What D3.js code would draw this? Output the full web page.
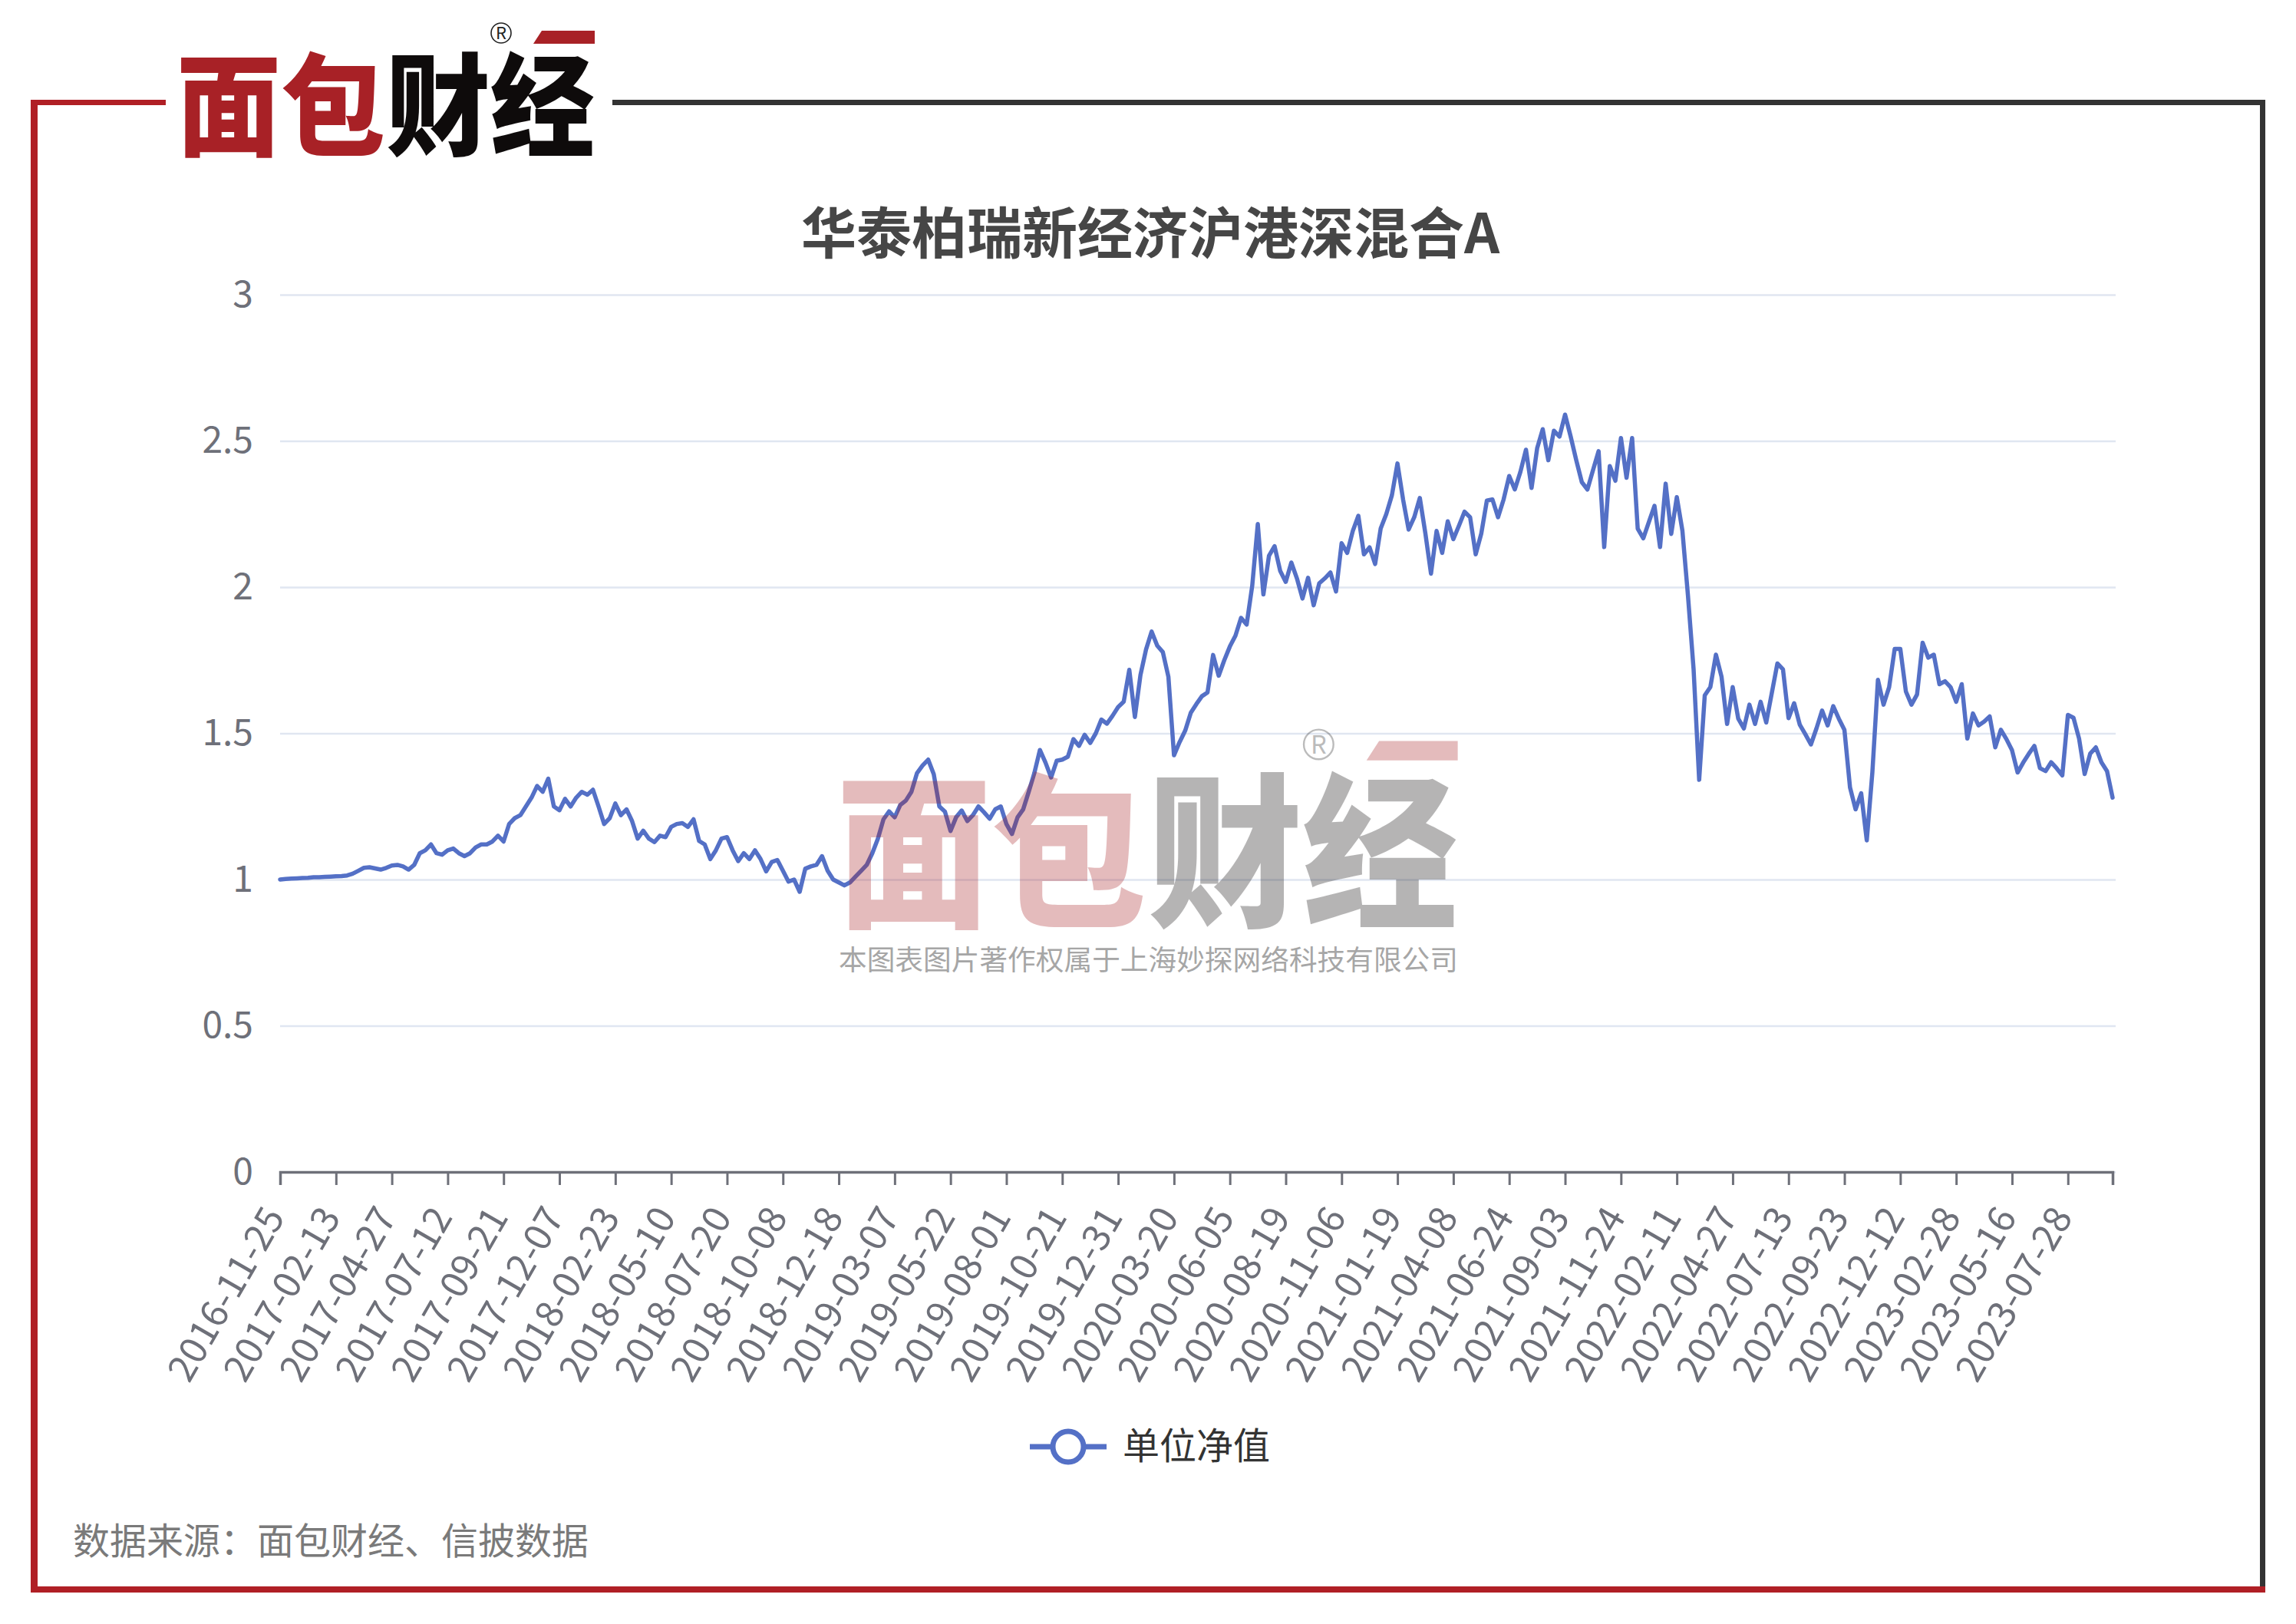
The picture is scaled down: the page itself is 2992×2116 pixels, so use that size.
<!DOCTYPE html>
<html><head><meta charset="utf-8">
<script src="https://cdn.jsdelivr.net/npm/d3@7/dist/d3.min.js"></script>
<style>html,body{margin:0;padding:0;background:#fff;}svg{display:block;}</style>
</head><body>
<script>
const chartTitle = "华泰柏瑞新经济沪港深混合A";
const seriesName = "单位净值";
const sourceText = "数据来源：面包财经、信披数据";
const watermarkText = "本图表图片著作权属于上海妙探网络科技有限公司";
// tick labels (one every 10 samples; one sample ≈ every 5 trading days)
const tickLabels = ["2016-11-25","2017-02-13","2017-04-27","2017-07-12","2017-09-21","2017-12-07","2018-02-23","2018-05-10","2018-07-20","2018-10-08","2018-12-18","2019-03-07","2019-05-22","2019-08-01","2019-10-21","2019-12-31","2020-03-20","2020-06-05","2020-08-19","2020-11-06","2021-01-19","2021-04-08","2021-06-24","2021-09-03","2021-11-24","2022-02-11","2022-04-27","2022-07-13","2022-09-23","2022-12-12","2023-02-28","2023-05-16","2023-07-28"];
const samplesPerLabel = 10;
const yTicks = [0, 0.5, 1, 1.5, 2, 2.5, 3];
// unit NAV, sampled along the trading-day axis
const nav = [
1.000,1.002,1.003,1.004,1.005,1.006,1.008,1.008,1.009,1.010,
1.011,1.012,1.014,1.020,1.030,1.040,1.042,1.038,1.034,1.040,
1.048,1.050,1.045,1.034,1.050,1.090,1.100,1.120,1.090,1.085,
1.100,1.106,1.090,1.080,1.090,1.110,1.120,1.120,1.130,1.150,
1.130,1.190,1.210,1.220,1.250,1.280,1.320,1.300,1.345,1.250,
1.237,1.276,1.250,1.280,1.300,1.290,1.307,1.250,1.190,1.210,
1.260,1.220,1.240,1.200,1.140,1.167,1.140,1.128,1.150,1.145,
1.180,1.190,1.193,1.180,1.206,1.132,1.120,1.070,1.100,1.140,
1.145,1.100,1.063,1.090,1.070,1.100,1.070,1.028,1.060,1.067,
1.030,0.993,1.000,0.958,1.037,1.045,1.050,1.080,1.030,1.000,
0.990,0.980,0.990,1.010,1.030,1.050,1.090,1.140,1.206,1.233,
1.213,1.255,1.270,1.300,1.364,1.390,1.410,1.360,1.250,1.232,
1.166,1.213,1.236,1.200,1.220,1.250,1.230,1.208,1.240,1.250,
1.190,1.156,1.213,1.240,1.300,1.364,1.443,1.400,1.349,1.406,
1.410,1.420,1.480,1.457,1.495,1.467,1.500,1.547,1.533,1.560,
1.590,1.608,1.717,1.556,1.700,1.787,1.848,1.800,1.778,1.693,
1.425,1.470,1.509,1.570,1.600,1.627,1.640,1.768,1.697,1.750,
1.797,1.834,1.895,1.872,2.004,2.216,1.975,2.107,2.140,2.056,
2.018,2.084,2.030,1.961,2.032,1.938,2.013,2.030,2.050,1.985,
2.150,2.117,2.192,2.244,2.112,2.136,2.079,2.201,2.250,2.314,
2.423,2.300,2.197,2.239,2.305,2.183,2.046,2.192,2.117,2.225,
2.164,2.210,2.258,2.239,2.112,2.183,2.296,2.300,2.239,2.300,
2.380,2.334,2.394,2.470,2.339,2.475,2.540,2.434,2.535,2.515,
2.590,2.515,2.434,2.359,2.334,2.400,2.465,2.137,2.414,2.364,
2.510,2.374,2.510,2.200,2.167,2.223,2.278,2.137,2.354,2.182,
2.308,2.193,1.970,1.720,1.341,1.630,1.658,1.769,1.694,1.532,
1.658,1.550,1.517,1.598,1.532,1.608,1.537,1.638,1.739,1.719,
1.552,1.603,1.530,1.497,1.462,1.517,1.578,1.527,1.593,1.550,
1.512,1.315,1.240,1.295,1.134,1.366,1.683,1.598,1.658,1.789,
1.789,1.643,1.598,1.633,1.810,1.759,1.769,1.668,1.678,1.658,
1.608,1.668,1.482,1.568,1.527,1.540,1.558,1.452,1.512,1.480,
1.442,1.366,1.400,1.430,1.457,1.381,1.371,1.401,1.380,1.356,
1.563,1.553,1.482,1.361,1.431,1.452,1.401,1.371,1.280
];

const W = 2992, H = 2116;
const FONT = "'Noto Sans CJK SC','Noto Sans',sans-serif";
const svg = d3.select("body").append("svg").attr("width", W).attr("height", H);
svg.append("rect").attr("width", W).attr("height", H).attr("fill", "#fff");

const RED = "#b01f25", DARK = "#333333";
// frame
svg.append("line").attr("x1",40).attr("x2",216).attr("y1",133.5).attr("y2",133.5).attr("stroke",RED).attr("stroke-width",7);
svg.append("line").attr("x1",44.5).attr("x2",44.5).attr("y1",130).attr("y2",2075).attr("stroke",RED).attr("stroke-width",9);
svg.append("line").attr("x1",798).attr("x2",2952).attr("y1",133.5).attr("y2",133.5).attr("stroke",DARK).attr("stroke-width",7);
svg.append("line").attr("x1",2948.5).attr("x2",2948.5).attr("y1",130).attr("y2",2075).attr("stroke",DARK).attr("stroke-width",7);
svg.append("line").attr("x1",40).attr("x2",2952).attr("y1",2071).attr("y2",2071).attr("stroke",RED).attr("stroke-width",8);

function drawLogo(g) {
  g.append("text").attr("x",230).attr("y",192).attr("font-family",FONT).attr("font-weight",900)
    .attr("font-size",145).attr("fill","#a82126").attr("textLength",272).attr("lengthAdjust","spacingAndGlyphs").text("面包");
  g.append("text").attr("x",503).attr("y",192).attr("font-family",FONT).attr("font-weight",900)
    .attr("font-size",145).attr("fill","#0e0b0b").attr("textLength",272).attr("lengthAdjust","spacingAndGlyphs").text("财经");
  g.append("path").attr("d","M695,57 L706,40 L775,40 L775,57 Z").attr("fill","#a82126");
  g.append("circle").attr("cx",653).attr("cy",43).attr("r",13).attr("fill","none").attr("stroke","#222").attr("stroke-width",1.6);
  g.append("text").attr("x",653).attr("y",51).attr("text-anchor","middle").attr("font-family",FONT)
    .attr("font-size",22).attr("fill","#222").text("R");
}
drawLogo(svg.append("g"));

// title
svg.append("text").attr("x",1499).attr("y",330).attr("text-anchor","middle").attr("font-family",FONT)
  .attr("font-weight",700).attr("font-size",72).attr("fill","#464646").text(chartTitle);

// scales
const x = d3.scaleLinear().domain([0, nav.length - 1]).range([365, 2753]);
const y = d3.scaleLinear().domain([0, 3]).range([1527, 384]);

// grid + y labels
const yAxis = d3.axisLeft(y).tickValues(yTicks).tickSize(-(2757 - 365)).tickPadding(35).tickFormat(d3.format("~g"));
const gy = svg.append("g").attr("transform","translate(365,0)").call(yAxis);
gy.select(".domain").remove();
gy.selectAll(".tick line").attr("stroke","#E0E6F1").attr("stroke-width",2.5);
gy.selectAll(".tick text").attr("font-family",FONT).attr("font-size",48).attr("fill","#6E7079");

// line
const line = d3.line().x((d,i)=>x(i)).y(d=>y(d));
svg.append("path").datum(nav).attr("d",line).attr("fill","none").attr("stroke","#5470c6")
  .attr("stroke-width",5.5).attr("stroke-linejoin","round").attr("stroke-linecap","round");

// watermark
const wm = svg.append("g").attr("opacity",0.3).attr("transform","translate(748,906) scale(1.486)");
drawLogo(wm);
svg.append("text").attr("x",1093).attr("y",1264).attr("font-family",FONT).attr("font-size",36)
  .attr("fill","#a6a6a6").attr("textLength",807).attr("lengthAdjust","spacingAndGlyphs").text(watermarkText);

// x axis
const tickIdx = tickLabels.map((d,i)=>i*samplesPerLabel);
const xAxis = d3.axisBottom(x).tickValues(tickIdx.concat([nav.length-1])).tickSize(17)
  .tickFormat((d)=>{ const k = tickIdx.indexOf(d); return k >= 0 ? tickLabels[k] : ""; });
const gx = svg.append("g").attr("transform","translate(0,1527)").call(xAxis);
gx.select(".domain").attr("stroke","#6E7079").attr("stroke-width",3.5);
gx.selectAll(".tick line").attr("stroke","#6E7079").attr("stroke-width",3);
gx.selectAll(".tick text").attr("font-family",FONT).attr("font-size",49).attr("fill","#6E7079")
  .attr("text-anchor","end").attr("dy","0.35em").attr("y",0)
  .attr("transform","translate(-8,50) rotate(-60)");

// legend
svg.append("line").attr("x1",1342).attr("x2",1442).attr("y1",1885).attr("y2",1885).attr("stroke","#5470c6").attr("stroke-width",7);
svg.append("circle").attr("cx",1392).attr("cy",1885).attr("r",20).attr("fill","#fff").attr("stroke","#5470c6").attr("stroke-width",7);
svg.append("text").attr("x",1463).attr("y",1901).attr("font-family",FONT).attr("font-size",48).attr("fill","#333").text(seriesName);

// source
svg.append("text").attr("x",95).attr("y",2025).attr("font-family",FONT).attr("font-size",48).attr("fill","#7a7a7a").text(sourceText);
</script>
</body></html>
